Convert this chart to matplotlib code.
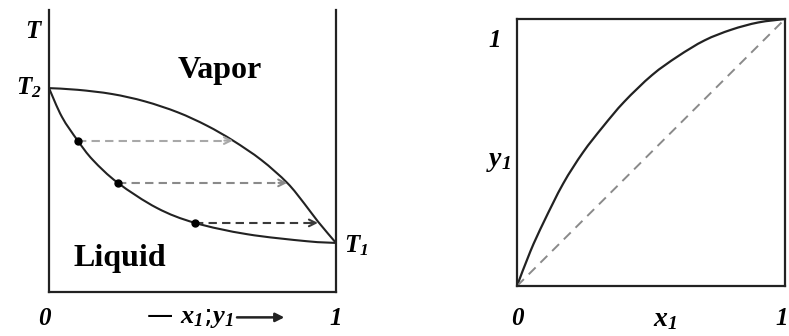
import numpy as np
import matplotlib.pyplot as plt
from matplotlib.path import Path
from matplotlib.patches import PathPatch

plt.rcParams['mathtext.fontset'] = 'custom'
plt.rcParams['mathtext.it'] = 'Liberation Serif:bold:italic'
plt.rcParams['mathtext.rm'] = 'Liberation Serif:bold:italic'
plt.rcParams['mathtext.bf'] = 'Liberation Serif:bold:italic'

# T-x-y diagram: bubble (liquid) and dew (vapor) curves, reduced temperature 0..1
x_liquid = [0.0, 0.045, 0.100, 0.153, 0.240, 0.376, 0.509, 0.690, 0.899, 1.0]
T_liquid = [0.723, 0.621, 0.537, 0.468, 0.387, 0.298, 0.245, 0.205, 0.180, 0.174]
y_vapor = [0.0, 0.10, 0.22, 0.334, 0.449, 0.55, 0.641, 0.74, 0.83, 0.89, 0.937, 1.0]
T_vapor = [0.723, 0.717, 0.702, 0.676, 0.637, 0.590, 0.537, 0.468, 0.387, 0.313, 0.250, 0.174]
T1 = 0.174
T2 = 0.723

# tie lines: liquid composition -> vapor composition at the same T
tie_T = [0.537, 0.387, 0.245]
tie_x = [0.100, 0.240, 0.509]
tie_y = [0.641, 0.830, 0.937]
tie_colors = ['#a8a8a8', '#8a8a8a', '#3a3a3a']

# x-y equilibrium curve
xe = [0.0, 0.05, 0.10, 0.172, 0.246, 0.321, 0.40, 0.504, 0.60, 0.70, 0.80, 0.90, 1.0]
ye = [0.0, 0.13, 0.24, 0.383, 0.500, 0.597, 0.690, 0.790, 0.860, 0.920, 0.960, 0.987, 1.0]


def smooth_path(xs, ys):
    # Catmull-Rom through the points, written as cubic Bezier segments
    p = np.column_stack([xs, ys]).astype(float)
    verts = [p[0]]
    codes = [Path.MOVETO]
    n = len(p)
    for i in range(n - 1):
        p0 = p[i - 1] if i > 0 else p[i]
        p1, p2 = p[i], p[i + 1]
        p3 = p[i + 2] if i + 2 < n else p[i + 1]
        c1 = p1 + (p2 - p0) / 6.0
        c2 = p2 - (p3 - p1) / 6.0
        verts += [c1, c2, p2]
        codes += [Path.CURVE4] * 3
    return Path(verts, codes)


def draw_curve(ax, xs, ys, **kw):
    ax.add_patch(PathPatch(smooth_path(xs, ys), fill=False, capstyle='round', **kw))


lab = dict(family='Liberation Serif', weight='bold', style='italic')

fig = plt.figure(figsize=(7.89, 3.36), dpi=100)

# ---------- left: T vs x1;y1 ----------
ax1 = fig.add_axes([49 / 789, 44 / 336, 287 / 789, 282 / 336])
ax1.set_xlim(0, 1)
ax1.set_ylim(0, 1)
ax1.spines['top'].set_visible(False)
for s in ['left', 'right', 'bottom']:
    ax1.spines[s].set_linewidth(1.6)
    ax1.spines[s].set_color('#222222')
ax1.set_xticks([])
ax1.set_yticks([])

draw_curve(ax1, x_liquid, T_liquid, edgecolor='#222222', lw=1.5)
draw_curve(ax1, y_vapor, T_vapor, edgecolor='#222222', lw=1.5)

for t, xl, yv, c in zip(tie_T, tie_x, tie_y, tie_colors):
    ax1.plot([xl, yv - 0.01], [t, t], ls=(0, (4, 2.5)), color=c, lw=1.5)
    ax1.annotate('', xy=(yv, t), xytext=(yv - 0.03, t),
                 arrowprops=dict(arrowstyle='->', color=c, lw=1.5,
                                 mutation_scale=12, shrinkA=0, shrinkB=0))
    ax1.plot(xl, t, 'o', color='black', ms=5)

ax1.text(-0.058, 0.925, 'T', fontsize=18, ha='center', va='center', **lab)
ax1.text(-0.07, T2, '$T_2$', fontsize=18, ha='center', va='center')
ax1.text(1.07, T1 - 0.01, '$T_1$', fontsize=18, ha='center', va='center')
ax1.text(-0.017, -0.095, '0', fontsize=18, ha='center', va='center', **lab)
ax1.text(1.0, -0.095, '1', fontsize=18, ha='center', va='center', **lab)
ax1.text(0.645, -0.088, r'— $x_1$;$y_1$', fontsize=19, ha='right', va='center')
ax1.annotate('', xy=(0.82, -0.09), xytext=(0.655, -0.09), xycoords='data',
             annotation_clip=False,
             arrowprops=dict(arrowstyle='-|>', color='#222222', lw=1.8,
                             mutation_scale=13, shrinkA=0, shrinkB=0))
ax1.text(0.596, 0.787, 'Vapor', fontsize=23, ha='center', va='center',
         family='Liberation Serif', weight='bold')
ax1.text(0.247, 0.12, 'Liquid', fontsize=23, ha='center', va='center',
         family='Liberation Serif', weight='bold')

# ---------- right: y1 vs x1 ----------
ax2 = fig.add_axes([517 / 789, 50 / 336, 268 / 789, 267 / 336])
ax2.set_xlim(0, 1)
ax2.set_ylim(0, 1)
for s in ax2.spines.values():
    s.set_linewidth(1.6)
    s.set_color('#222222')
ax2.set_xticks([])
ax2.set_yticks([])

ax2.plot([0, 1], [0, 1], ls=(0, (5, 3.5)), color='#8a8a8a', lw=1.4)
draw_curve(ax2, xe, ye, edgecolor='#222222', lw=1.6)

ax2.text(-0.082, 0.921, '1', fontsize=18, ha='center', va='center', **lab)
ax2.text(-0.07, 0.472, '$y_1$', fontsize=20, ha='center', va='center')
ax2.text(0.0, -0.12, '0', fontsize=18, ha='center', va='center', **lab)
ax2.text(0.552, -0.12, '$x_1$', fontsize=20, ha='center', va='center')
ax2.text(1.012, -0.12, '1', fontsize=18, ha='right', va='center', **lab)

fig.savefig('out.png', dpi=100)
